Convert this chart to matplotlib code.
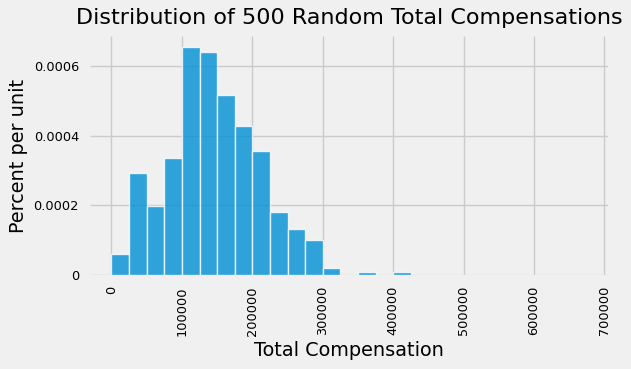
import numpy as np
import matplotlib
matplotlib.use('Agg')
import matplotlib.pyplot as plt
from matplotlib.ticker import FuncFormatter

plt.style.use('fivethirtyeight')

# Bin edges (25000 wide) and heights (percent per unit)
bin_edges = np.arange(0, 700001, 25000)
heights = [0.000059, 0.000292, 0.000197, 0.000335, 0.000654, 0.000640,
           0.000517, 0.000429, 0.000357, 0.000180, 0.000132, 0.000100,
           0.000020, 0.0, 0.000008, 0.0, 0.000008, 0.0, 0.0, 0.0,
           0.0, 0.0, 0.0, 0.0, 0.0, 0.0, 0.0, 0.0]
x_ticks = np.arange(0, 700001, 100000)
y_ticks = [0, 0.0002, 0.0004, 0.0006]

fig = plt.figure(figsize=(6.31, 3.69), dpi=100)
fig.patch.set_facecolor('#f0f0f0')
ax = fig.add_axes([90/631, 1 - 275/369, (608 - 90)/631, (275 - 36)/369])
ax.set_facecolor('#f0f0f0')

ax.bar(bin_edges[:-1], heights, width=np.diff(bin_edges), align='edge',
       color='#008fd5', alpha=0.8, edgecolor='w', linewidth=1, zorder=2)

ax.set_xlim(-30500, 705000)
ax.set_ylim(0, max(heights) * 1.05)
ax.set_xticks(x_ticks)
ax.set_yticks(y_ticks)
ax.xaxis.set_major_formatter(FuncFormatter(lambda v, p: '%d' % v))
ax.yaxis.set_major_formatter(FuncFormatter(lambda v, p: '%g' % v))
ax.tick_params(axis='both', labelsize=9.3, length=0, pad=8)
ax.tick_params(axis='x', labelrotation=90)
ax.grid(True, color='#cbcbcb', linewidth=1, zorder=0)
ax.set_axisbelow(True)
for s in ax.spines.values():
    s.set_visible(False)

ax.set_xlabel('Total Compensation', fontsize=13.9)
ax.set_ylabel('Percent per unit', fontsize=13.9)
ax.set_title('Distribution of 500 Random Total Compensations', fontsize=16, pad=9)

fig.savefig('out.png', dpi=100, facecolor=fig.get_facecolor())
